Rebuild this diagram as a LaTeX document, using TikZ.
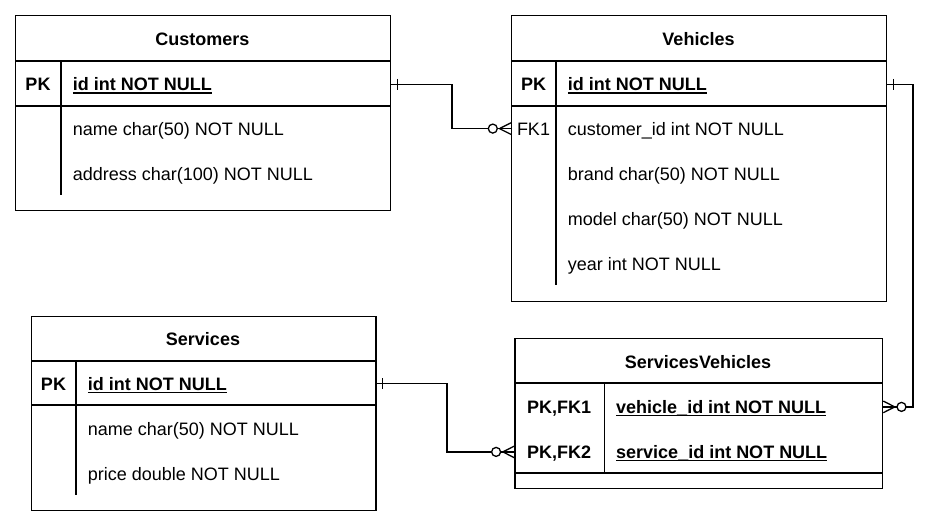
\documentclass[tikz,border=0pt]{standalone}
\usepackage{fontspec}
\setmainfont{Liberation Sans}
\usetikzlibrary{calc}
\newcommand{\ulx}[1]{\setbox0\hbox{#1}\rlap{\rule[-2.8pt]{\wd0}{1.3pt}}\box0}
\tikzset{
 tbl/.style={draw, line width=1.3pt, anchor=north west, inner sep=0pt},
 ln/.style={line width=1.3pt},
 fld/.style={font=\fontsize{18}{18}\selectfont, text height=12.9pt, text depth=0pt, inner sep=0pt, anchor=west},
 fldb/.style={fld, font=\fontsize{18}{18}\selectfont\bfseries},
 keyf/.style={fld, anchor=center, font=\fontsize{18}{18}\selectfont\bfseries},
 keyr/.style={fld, anchor=center},
 conn/.style={line width=1.3pt},
 circ/.style={line width=1.3pt, fill=white},
}
\begin{document}
\begin{tikzpicture}[x=1pt,y=-1pt]
\useasboundingbox (0,0) rectangle (942,527);
% Customers
\node[tbl, minimum width=375pt, minimum height=195pt] (cust) at (15,15) {};
\draw[ln] (15,61) -- (390,61) (15,106) -- (390,106) (61,61) -- (61,195);
\node[keyf] (ctitle) at (202.5,39.3) {Customers};
\node[keyf] (cpkk) at (38,84.3) {PK};
\node[fldb] (cpk) at (72.7,84.3) {\ulx{id int NOT NULL}};
\node[fld] (cname) at (72.7,128.6) {name char(50) NOT NULL};
\node[fld] (caddr) at (72.7,173.6) {address char(100) NOT NULL};
% Vehicles
\node[tbl, minimum width=375pt, minimum height=286pt] (veh) at (511,15) {};
\draw[ln] (511,61) -- (886,61) (511,106) -- (886,106) (556,61) -- (556,285);
\node[keyf] (vtitle) at (698.5,39.3) {Vehicles};
\node[keyf] (vpkk) at (533.5,84.3) {PK};
\node[fldb] (vpk) at (567.7,84.3) {\ulx{id int NOT NULL}};
\node[keyr] (vfk) at (533.5,128.6) {FK1};
\node[fld] (vcust) at (567.7,128.6) {customer\_id int NOT NULL};
\node[fld] (vbrand) at (567.7,173.6) {brand char(50) NOT NULL};
\node[fld] (vmodel) at (567.7,218.6) {model char(50) NOT NULL};
\node[fld] (vyear) at (567.7,263.6) {year int NOT NULL};
% Services
\node[tbl, minimum width=344.3pt, minimum height=193.7pt] (serv) at (31,316) {};
\draw[ln] (31,361) -- (375.3,361) (31,405) -- (375.3,405) (76,361) -- (76,495);
\node[keyf] (stitle) at (203,338.6) {Services};
\node[keyf] (spkk) at (53.5,383.6) {PK};
\node[fldb] (spk) at (87.7,383.6) {\ulx{id int NOT NULL}};
\node[fld] (sname) at (87.7,428.6) {name char(50) NOT NULL};
\node[fld] (sprice) at (87.7,473.6) {price double NOT NULL};
% ServicesVehicles
\node[tbl, minimum width=367.7pt, minimum height=149.7pt] (sv) at (514.3,338) {};
\draw[ln] (514.3,383) -- (882,383) (514.3,473) -- (882,473) (604.3,383) -- (604.3,473);
\node[keyf] (svtitle) at (698,361.9) {ServicesVehicles};
\node[keyf] (svk1) at (559,406.9) {PK,FK1};
\node[fldb] (svr1) at (616,406.9) {\ulx{vehicle\_id int NOT NULL}};
\node[keyf] (svk2) at (559,451.9) {PK,FK2};
\node[fldb] (svr2) at (616,451.9) {\ulx{service\_id int NOT NULL}};
% Connector 1: Customers -> Vehicles
\draw[conn] (cpk -| cust.east) -- ++(60.7,0) |- (vfk -| veh.west);
\draw[conn] ($(cpk -| cust.east)+(6,-5.5)$) -- ++(0,11);
\draw[conn] ($(vfk -| veh.west)+(0,-5.8)$) -- ++(-11.5,5.8) -- ++(11.5,5.8);
\draw[circ] ($(vfk -| veh.west)+(-18.2,0)$) circle (4.5);
% Connector 2: Vehicles -> ServicesVehicles
\draw[conn] (vpk -| veh.east) -- ++(25.7,0) |- (svr1 -| sv.east);
\draw[conn] ($(vpk -| veh.east)+(6,-5.5)$) -- ++(0,11);
\draw[conn] ($(svr1 -| sv.east)+(0,-5.8)$) -- ++(11.5,5.8) -- ++(-11.5,5.8);
\draw[circ] ($(svr1 -| sv.east)+(18.2,0)$) circle (4.5);
% Connector 3: Services -> ServicesVehicles
\draw[conn] (spk -| serv.east) -- ++(70.4,0) |- (svr2 -| sv.west);
\draw[conn] ($(spk -| serv.east)+(6,-5.5)$) -- ++(0,11);
\draw[conn] ($(svr2 -| sv.west)+(0,-5.8)$) -- ++(-11.5,5.8) -- ++(11.5,5.8);
\draw[circ] ($(svr2 -| sv.west)+(-18.2,0)$) circle (4.5);
\end{tikzpicture}
\end{document}
